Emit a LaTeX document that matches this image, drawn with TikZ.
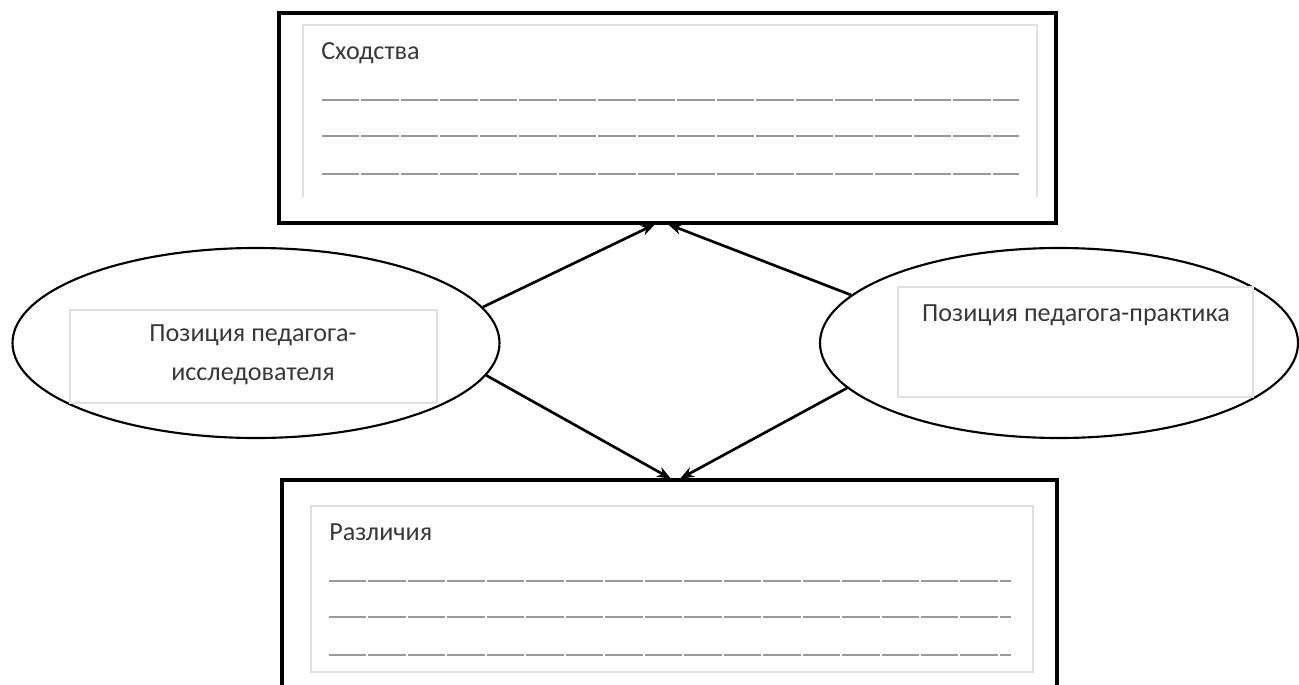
\documentclass[tikz,border=0pt]{standalone}
\usepackage{fontspec}
\setmainfont{Carlito}
\usetikzlibrary{shapes.geometric,arrows.meta,calc}
\begin{document}
\begin{tikzpicture}[x=0.75pt,y=-0.75pt,
  outerbox/.style={draw=black,line width=2.3pt},
  innerbox/.style={draw=black!12,line width=0.9pt},
  oval/.style={ellipse,draw=black,line width=1.6pt,inner sep=0pt},
  txt/.style={font=\fontsize{19.6}{24}\selectfont,text=black!78,inner sep=0pt},
  rule/.style={draw=black!40,line width=1.1pt,dash pattern=on 28.1pt off 1.5pt},
  conn/.style={line width=2pt,-{Stealth[length=10.5pt,width=8pt]}}]
\useasboundingbox (0,0) rectangle (1299,685);
\clip (0,0) rectangle (1299,685);
% top box
\node[draw=none,minimum width=777*0.75pt,minimum height=210*0.75pt,inner sep=0pt] (T) at (667.5,118) {};
\draw[outerbox] (279,13) rectangle (1056,223);
\draw[innerbox] (303,197) -- (303,25) -- (1037,25) -- (1037,197);
\node[txt,anchor=base west] (ts) at (321,60) {Сходства};
\foreach \yy in {100,136,174}{
  \draw[rule] (322,\yy) -- (1019,\yy);
}
% bottom box
\node[draw=none,minimum width=775*0.75pt,minimum height=220*0.75pt,inner sep=0pt] (B) at (669.5,590) {};
\draw[outerbox] (282,700) -- (282,480) -- (1057,480) -- (1057,700);
\draw[innerbox] (311,506) rectangle (1033,672);
\node[txt,anchor=base west] (bs) at (329,540) {Различия};
\foreach \yy in {581,617,655}{
  \draw[rule] (329,\yy) -- (1011,\yy);
}
% left ellipse
\node[oval,minimum width=487*0.75pt,minimum height=190*0.75pt] (L) at (256,343) {};
\draw[innerbox] (70,310) rectangle (437,403);
\node[txt,align=center] (lt) at (253,355) {Позиция педагога-\\[5pt]исследователя};
% right ellipse
\node[oval,minimum width=478*0.75pt,minimum height=190*0.75pt] (R) at (1059,343) {};
\draw[innerbox] (898,287) rectangle (1253,397);
\node[txt] (rt) at (1076,315) {Позиция педагога-практика};
% connectors
\coordinate (t1) at ($(T.south)+(-12.5,1)$);
\coordinate (t2) at ($(T.south)+(0.5,1)$);
\coordinate (b1) at ($(B.north)+(1.5,-1)$);
\coordinate (b2) at ($(B.north)+(10.5,-1)$);
\draw[conn] (L.9) -- (t1);
\draw[conn] (R.167.6) -- (t2);
\draw[conn] (L.-8) -- (b1);
\draw[conn] (R.192.7) -- (b2);
\end{tikzpicture}
\end{document}
